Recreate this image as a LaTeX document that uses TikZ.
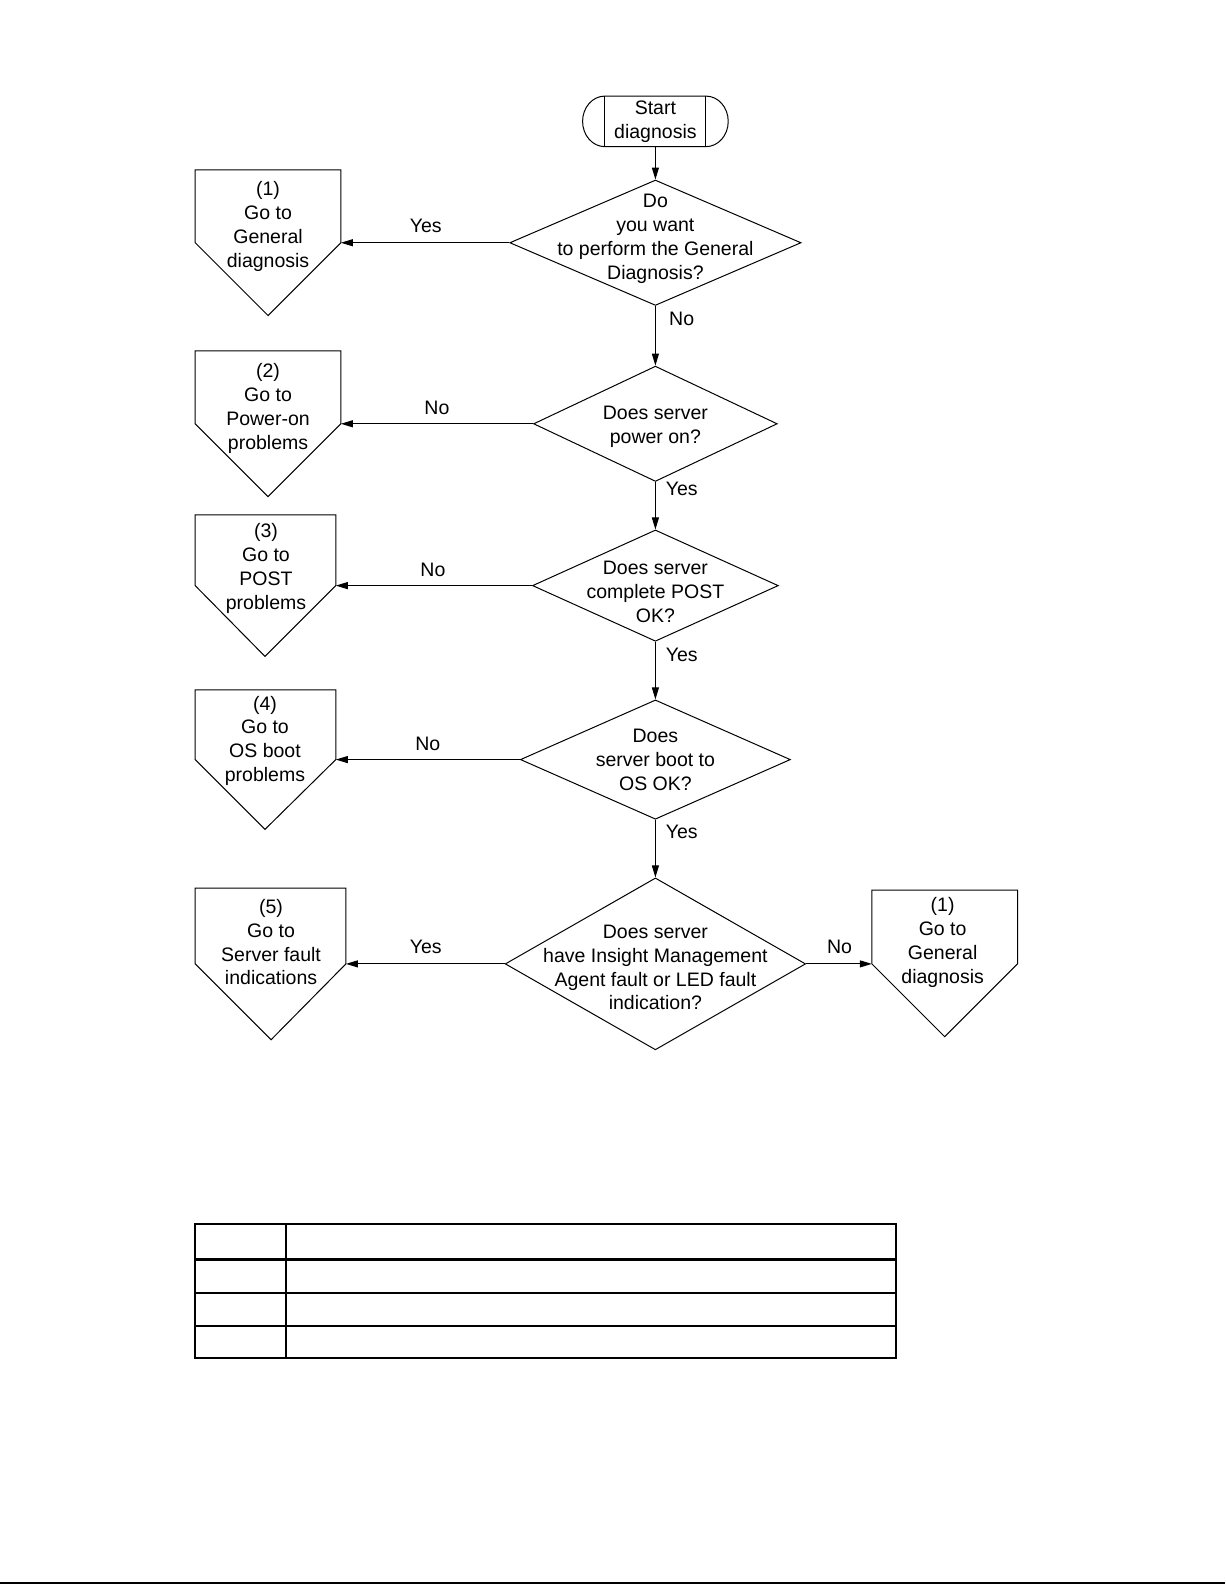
\documentclass[tikz,border=0pt]{standalone}
\usepackage{fontspec}
\setmainfont{Liberation Sans}
\usetikzlibrary{arrows.meta,shapes.geometric}
\begin{document}
\begin{tikzpicture}[x=1.0114pt,y=-1.0114pt,
  txt/.style={align=center,inner sep=0pt,font=\fontsize{19.5}{23.9}\selectfont},
  lbl/.style={inner sep=0pt,font=\fontsize{19.5}{23}\selectfont},
  shp/.style={draw,line width=1pt,line join=miter},
  dia/.style={shape=diamond,draw,line width=1pt,inner sep=0pt},
  conn/.style={draw,line width=1pt,-{Triangle[length=12pt,width=7pt]}},
  tbl/.style={line width=1.8pt}]
\useasboundingbox (0,0) rectangle (1211.2,1567.1);
% start terminal
\draw[shp] (598,95) -- (698,95) .. controls (710.15,95) and (720,106.2) .. (720,120) .. controls (720,133.8) and (710.15,145) .. (698,145) -- (598,145) .. controls (585.85,145) and (576,133.8) .. (576,120) .. controls (576,106.2) and (585.85,95) .. cycle;
\draw[shp] (598,95) -- (598,145) (698,95) -- (698,145);
\node[txt] (start) at (648,120.5) {Start\\diagnosis};
\coordinate (startb) at (648,145);
% diamonds
\node[dia,minimum width=291.3pt,minimum height=125.4pt] (d1) at (648,240) {};
\node[txt] (d1t) at (648,236) {Do\\you want\\to perform the General\\Diagnosis?};
\node[dia,minimum width=243.7pt,minimum height=115.3pt] (d2) at (648,419) {};
\node[txt] (d2t) at (648,422) {Does server\\power on?};
\node[dia,minimum width=245.8pt,minimum height=111.3pt] (d3) at (648,579) {};
\node[txt] (d3t) at (648,585) {Does server\\complete POST\\OK?};
\node[dia,minimum width=270pt,minimum height=119.3pt] (d4) at (648,751) {};
\node[txt] (d4t) at (648,751.5) {Does\\server boot to\\OS OK?};
\node[dia,minimum width=300.4pt,minimum height=171.9pt] (d5) at (648,953) {};
\node[txt] (d5t) at (648,956.5) {Does server\\have Insight Management\\Agent fault or LED fault\\indication?};
% pentagons
\draw[shp] (193,168) -- (337,168) -- (337,240) -- (265,312) -- (193,240) -- cycle;
\coordinate (p1e) at (337,240);
\node[txt] (p1) at (265,224) {(1)\\Go to\\General\\diagnosis};
\draw[shp] (193,347) -- (337,347) -- (337,419) -- (265,491) -- (193,419) -- cycle;
\coordinate (p2e) at (337,419);
\node[txt] (p2) at (265,403.5) {(2)\\Go to\\Power-on\\problems};
\draw[shp] (193,509) -- (332,509) -- (332,579) -- (262,649) -- (193,579) -- cycle;
\coordinate (p3e) at (332,579);
\node[txt] (p3) at (263,562) {(3)\\Go to\\POST\\problems};
\draw[shp] (193,682) -- (332,682) -- (332,751) -- (262,820) -- (193,751) -- cycle;
\coordinate (p4e) at (332,751);
\node[txt] (p4) at (262,732.5) {(4)\\Go to\\OS boot\\problems};
\draw[shp] (193,878) -- (342,878) -- (342,953) -- (268,1028) -- (193,953) -- cycle;
\coordinate (p5e) at (342,953);
\node[txt] (p5) at (268,931.5) {(5)\\Go to\\Server fault\\indications};
\draw[shp] (862,880) -- (1006,880) -- (1006,953) -- (934,1025) -- (862,953) -- cycle;
\coordinate (p6e) at (862,953);
\node[txt] (p6) at (932,931.5) {(1)\\Go to\\General\\diagnosis};
% connectors
\draw[conn] (startb) -- (d1.north);
\draw[conn] (d1.west) -- (p1e);
\draw[conn] (d1.south) -- (d2.north);
\draw[conn] (d2.west) -- (p2e);
\draw[conn] (d2.south) -- (d3.north);
\draw[conn] (d3.west) -- (p3e);
\draw[conn] (d3.south) -- (d4.north);
\draw[conn] (d4.west) -- (p4e);
\draw[conn] (d4.south) -- (d5.north);
\draw[conn] (d5.west) -- (p5e);
\draw[conn] (d5.east) -- (p6e);
% labels
\node[lbl] (l1) at (421,223) {Yes};
\node[lbl] (l2) at (674,315) {No};
\node[lbl] (l3) at (432,403) {No};
\node[lbl] (l4) at (674,483) {Yes};
\node[lbl] (l5) at (428,563) {No};
\node[lbl] (l6) at (674,647) {Yes};
\node[lbl] (l7) at (423,735) {No};
\node[lbl] (l8) at (674,822) {Yes};
\node[lbl] (l9) at (421,936) {Yes};
\node[lbl] (l10) at (830,936) {No};
% table
\draw[tbl] (193,1210) rectangle (886,1343);
\draw[tbl] (283,1210) -- (283,1343);
\draw[line width=2.6pt] (193,1245) -- (886,1245);
\draw[tbl] (193,1278) -- (886,1278);
\draw[tbl] (193,1311) -- (886,1311);
% bottom rule
\draw[line width=2pt] (0,1565.5) -- (1211.2,1565.5);
\end{tikzpicture}
\end{document}
